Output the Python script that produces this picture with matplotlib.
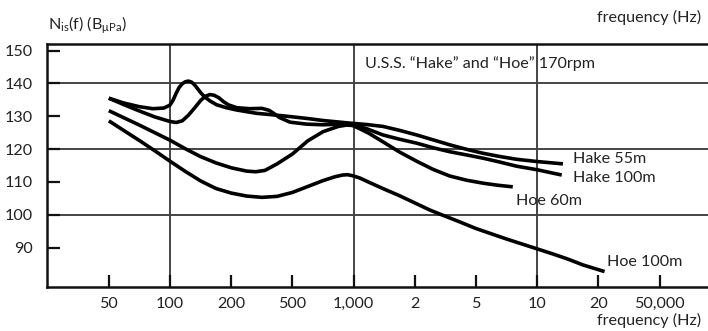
import matplotlib
matplotlib.use("Agg")
import matplotlib.pyplot as plt

plt.rcParams['font.family'] = ['Lato', 'DejaVu Sans']
plt.rcParams['mathtext.fontset'] = 'custom'
plt.rcParams['mathtext.rm'] = 'Lato'
plt.rcParams['mathtext.it'] = 'Lato'

# category axis (evenly spaced frequency labels)
freq_labels = ["50", "100", "200", "500", "1,000", "2", "5", "10", "20", "50,000"]
grid_idx = [1, 4, 7]            # 100, 1,000, 10 have full grid lines
yticks = [90, 100, 110, 120, 130, 140, 150]
ygrid = [100, 120, 140]

# curves: x given as position along the category axis, y in dB
hake55_x = [0.0, 0.25, 0.5, 0.72, 0.9, 1.0, 1.05, 1.1, 1.15, 1.2, 1.25, 1.3, 1.35,
            1.4, 1.45, 1.5, 1.56, 1.65, 1.76, 1.92, 2.09, 2.41, 2.7, 2.96, 3.25,
            3.5, 3.94, 4.2, 4.48, 4.75, 5.03, 5.3, 5.57, 5.85, 6.12, 6.4, 6.66,
            7.0, 7.42]
hake55_y = [135.5, 134.0, 132.9, 132.3, 132.5, 133.4, 134.9, 137.0, 138.8, 139.9,
            140.5, 140.7, 140.4, 139.6, 138.4, 137.2, 136.0, 134.7, 133.5, 132.6,
            131.9, 130.9, 130.4, 129.9, 129.3, 128.7, 127.9, 127.5, 126.9, 125.7,
            124.3, 122.8, 121.3, 119.9, 118.7, 117.7, 116.9, 116.2, 115.5]

hake100_x = [0.0, 0.25, 0.5, 0.75, 1.0, 1.1, 1.2, 1.3, 1.4, 1.5, 1.58, 1.65, 1.72,
             1.8, 1.87, 1.95, 2.09, 2.3, 2.5, 2.62, 2.7, 2.79, 2.96, 3.23, 3.5,
             3.94, 4.2, 4.48, 4.75, 5.03, 5.3, 5.57, 5.85, 6.12, 6.4, 6.66, 7.0,
             7.4]
hake100_y = [135.5, 133.5, 131.6, 129.8, 128.4, 128.1, 128.6, 130.3, 132.5, 134.8,
             136.1, 136.6, 136.4, 135.6, 134.5, 133.5, 132.6, 132.3, 132.4, 131.8,
             130.8, 129.6, 128.2, 127.6, 127.4, 127.7, 126.3, 124.3, 123.0, 121.8,
             120.4, 119.2, 118.2, 117.2, 116.0, 114.8, 113.7, 112.1]

hoe60_x = [0.0, 0.25, 0.5, 0.75, 1.0, 1.25, 1.5, 1.75, 2.0, 2.25, 2.4, 2.55, 2.75,
           3.0, 3.25, 3.5, 3.75, 3.88, 3.98, 4.1, 4.25, 4.48, 4.75, 5.03, 5.3,
           5.57, 5.85, 6.12, 6.35, 6.6]
hoe60_y = [131.7, 129.5, 127.3, 125.0, 122.7, 120.1, 117.7, 115.8, 114.3, 113.3,
           113.1, 113.5, 115.5, 118.5, 122.5, 125.3, 126.9, 127.3, 127.2, 126.2,
           124.8, 122.2, 119.1, 116.3, 113.8, 111.8, 110.5, 109.6, 109.0, 108.5]

hoe100_x = [0.0, 0.25, 0.5, 0.75, 1.0, 1.25, 1.5, 1.75, 2.0, 2.25, 2.5, 2.75, 3.0,
            3.25, 3.5, 3.7, 3.82, 3.9, 3.98, 4.1, 4.25, 4.5, 4.75, 5.0, 5.25, 5.41,
            5.75, 6.0, 6.25, 6.5, 6.75, 7.0, 7.25, 7.5, 7.75, 8.1]
hoe100_y = [128.6, 125.6, 122.6, 119.5, 116.3, 113.2, 110.3, 108.0, 106.6, 105.7,
            105.3, 105.6, 106.8, 108.6, 110.4, 111.6, 112.1, 112.2, 111.9, 111.2,
            109.9, 107.8, 105.8, 103.6, 101.4, 100.2, 97.7, 95.8, 94.2, 92.6, 91.1,
            89.6, 88.1, 86.5, 84.7, 82.7]

series = [
    (hake55_x, hake55_y, "Hake 55m"),
    (hake100_x, hake100_y, "Hake 100m"),
    (hoe60_x, hoe60_y, "Hoe 60m"),
    (hoe100_x, hoe100_y, "Hoe 100m"),
]

W, H = 708, 331
FS = 11.6
TXT = "#222222"
fig = plt.figure(figsize=(W / 100, H / 100), dpi=100)
ax = fig.add_axes([47 / W, (H - 287) / H, 1 - 47 / W, (287 - 44) / H])
ax.set_xlim(-1.01, 9.79)
ax.set_ylim(78.0, 152.0)

ax.spines["right"].set_visible(False)
for s in ["left", "bottom", "top"]:
    ax.spines[s].set_linewidth(1.8)
    ax.spines[s].set_color("#111111")

for g in ygrid:
    ax.axhline(g, color="#444444", lw=1.4, zorder=1)
for i in grid_idx:
    ax.axvline(i, color="#444444", lw=1.4, zorder=1)

ax.set_yticks(yticks)
ax.set_yticklabels([str(v) for v in yticks])
ax.set_xticks(range(len(freq_labels)))
ax.set_xticklabels(freq_labels)
ax.tick_params(axis="both", direction="in", length=9, width=1.6, color="#111111",
               labelsize=FS, labelcolor=TXT)
ax.tick_params(axis="y", pad=10)
ax.tick_params(axis="x", pad=7)

for x, y, lab in series:
    ax.plot(x, y, color="black", lw=2.6, solid_capstyle="butt",
            solid_joinstyle="round", zorder=3)

def px(xp, yp):
    return xp / W, 1 - yp / H

labels_pos = [(573, 159.5, "Hake 55m"), (573, 177.5, "Hake 100m"),
              (516, 201, "Hoe 60m"), (607, 262.5, "Hoe 100m")]
for xp, yp, t in labels_pos:
    fig.text(*px(xp, yp), t, ha="left", va="center", fontsize=FS, color=TXT)

fig.text(*px(365, 63.5), "U.S.S. \u201cHake\u201d and \u201cHoe\u201d 170rpm",
         ha="left", va="center", fontsize=FS, color=TXT)

fig.text(*px(48, 25), r"N$_{\mathrm{is}}$(f) (B$_{\mathrm{\mu Pa}}$)", ha="left", va="center",
         fontsize=FS, color=TXT)
fig.text(*px(701, 17), "frequency (Hz)", ha="right", va="center", fontsize=FS, color=TXT)
fig.text(*px(701, 320), "frequency (Hz)", ha="right", va="center", fontsize=FS, color=TXT)

fig.savefig("out.png", dpi=100)
